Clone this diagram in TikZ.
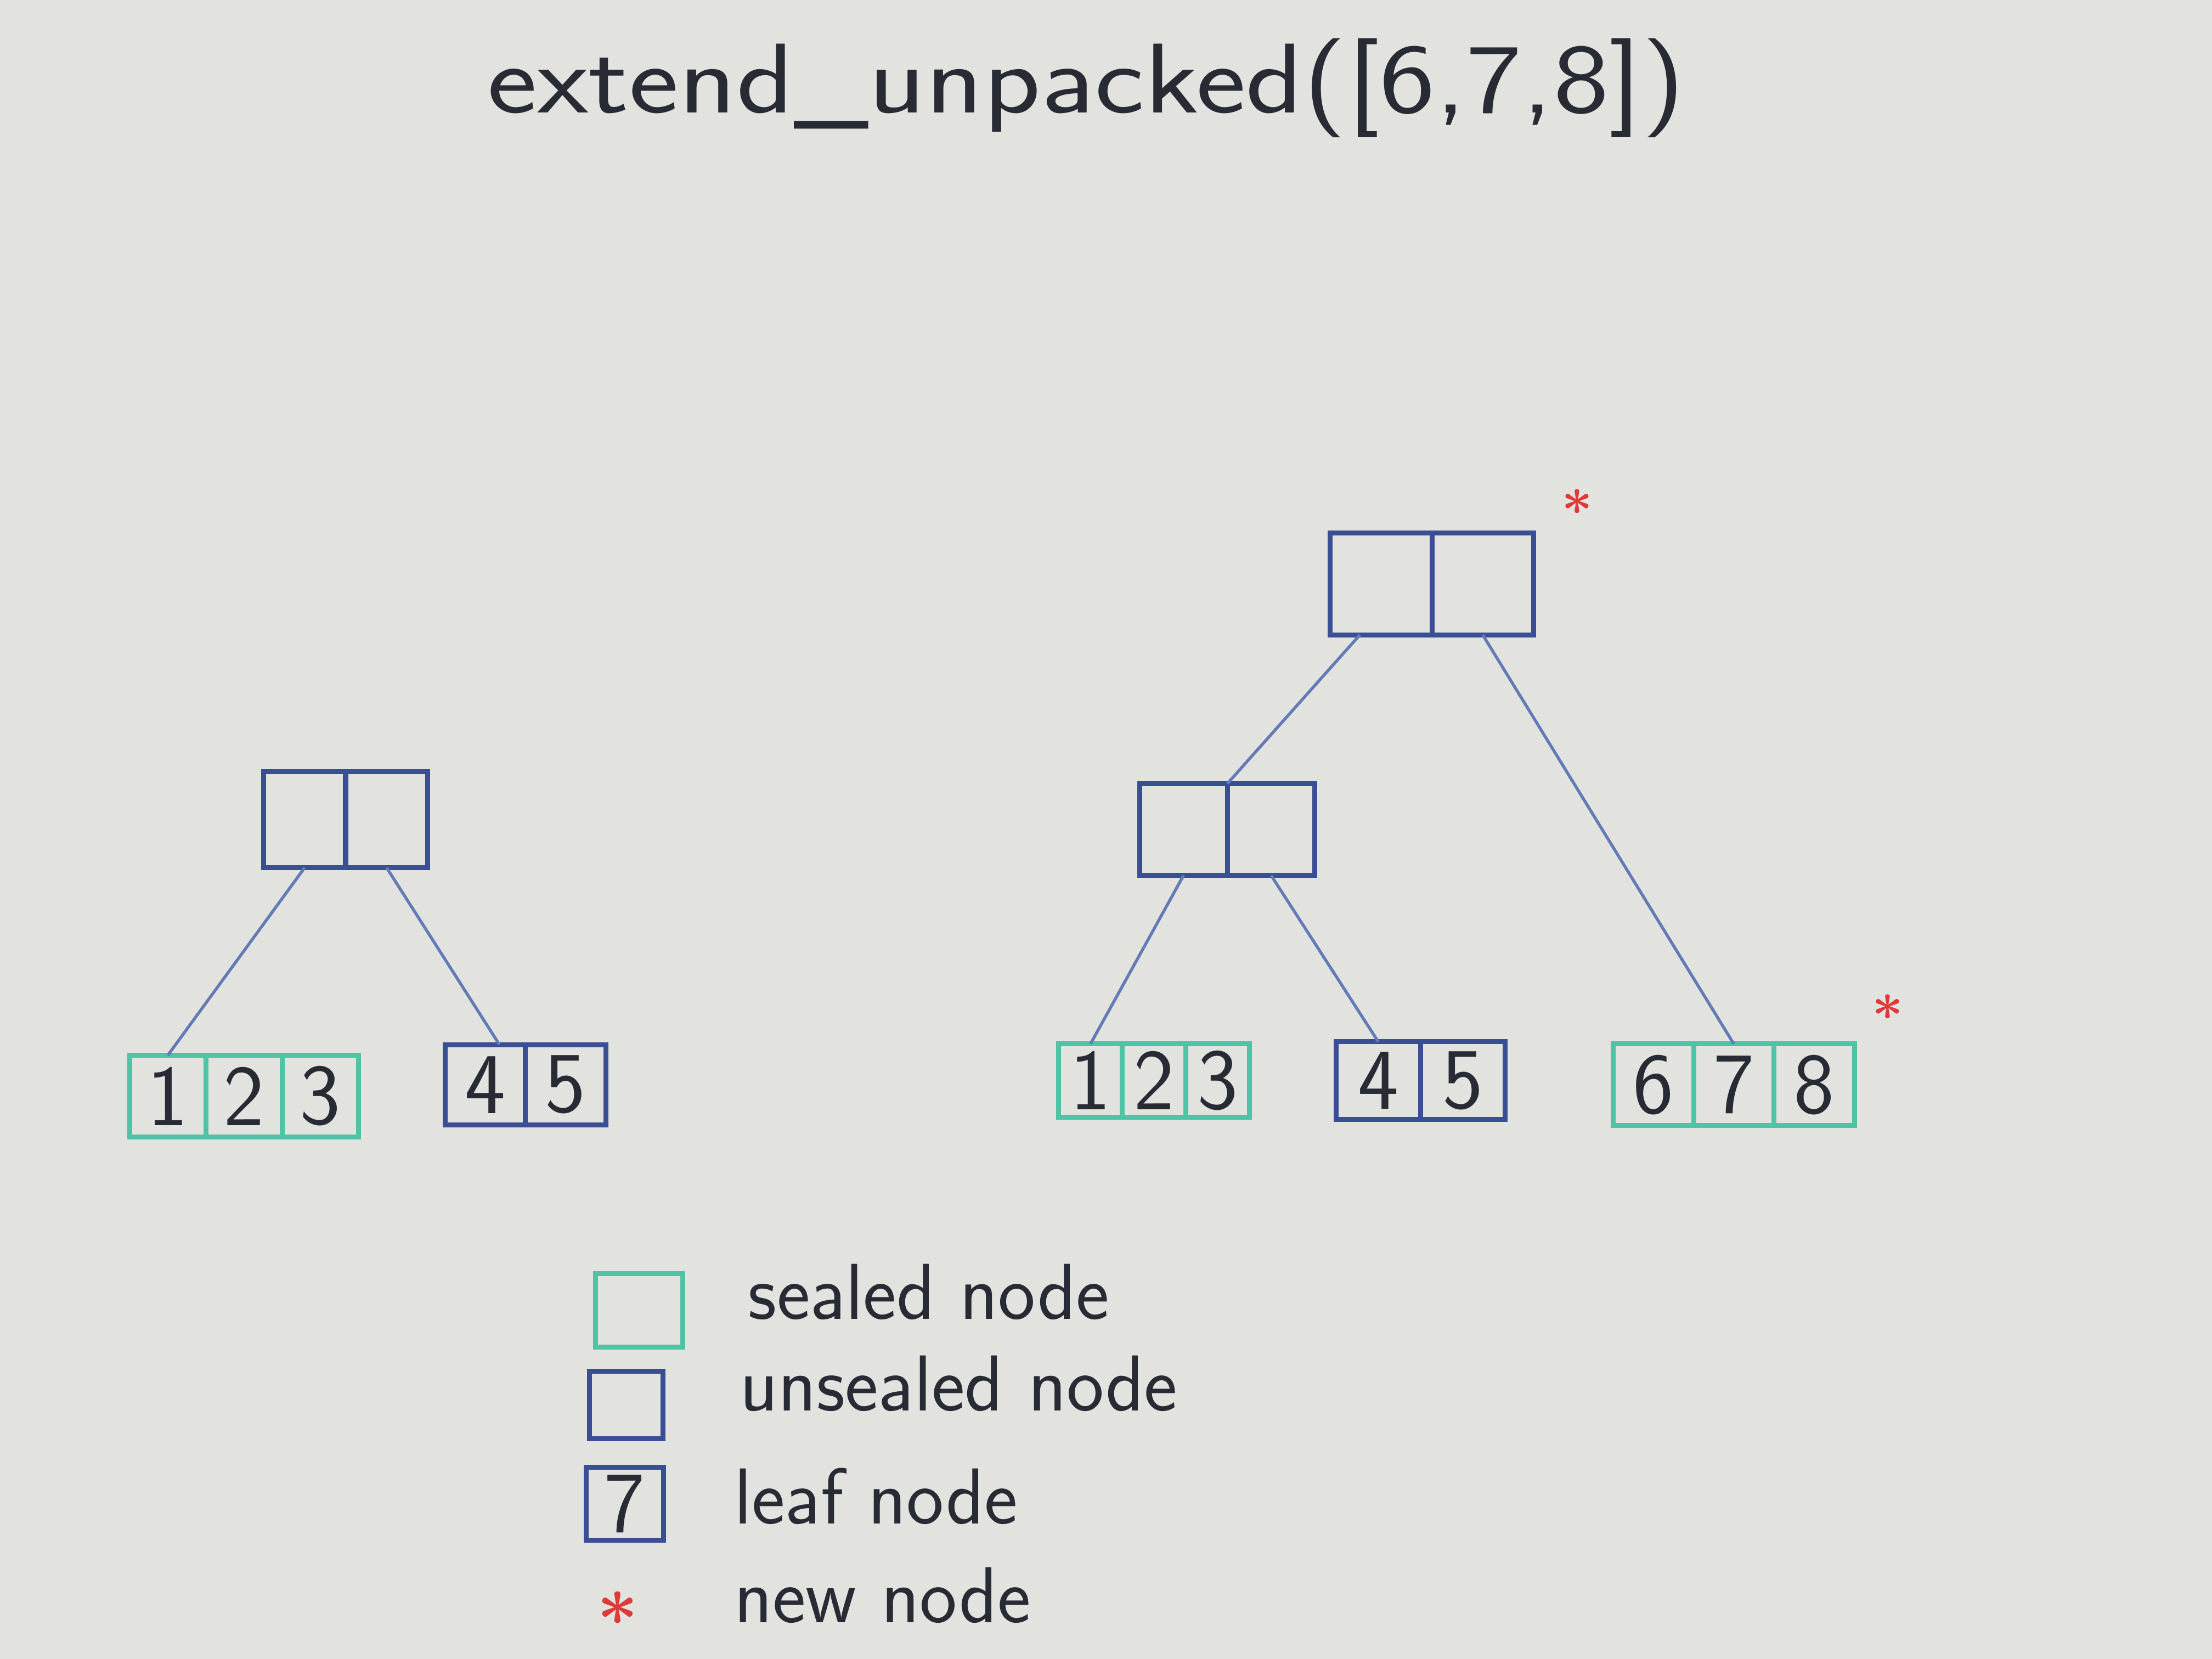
\documentclass[tikz,border=0pt]{standalone}
\usepackage{fontspec}
\usetikzlibrary{positioning}
\definecolor{board}{RGB}{226,226,223}
\definecolor{ink}{RGB}{58,78,150}
\definecolor{inklight}{RGB}{98,122,182}
\definecolor{sealgreen}{RGB}{78,196,165}
\definecolor{newred}{RGB}{222,58,58}
\definecolor{pen}{RGB}{40,42,52}
\tikzset{
	cell/.style={draw, line width=1pt, inner sep=0pt, outer sep=0pt, text=pen, font=\sffamily\fontsize{17.5}{20}\selectfont},
	sealed/.style={cell, draw=sealgreen},
	unsealed/.style={cell, draw=ink},
	edge/.style={draw=inklight, line width=0.6pt},
	newmark/.style={text=newred, inner sep=0pt, font=\boldmath\fontsize{11}{11}\selectfont},
	legend/.style={anchor=base west, text=pen, font=\sffamily\fontsize{16}{19}\selectfont},
}

\begin{document}
\begin{tikzpicture}
\fill[board] (0,0) rectangle (15.68,11.76);
\useasboundingbox (0,0) rectangle (15.68,11.76);

\node[anchor=base, text=pen, font=\sffamily\fontsize{20}{24}\selectfont] (title) at (7.70,10.96) {\scalebox{1.2}[1]{extend\_unpacked([6,7,8])}};

% left tree
\begin{scope}[every node/.append style={minimum width=.58cm, minimum height=.68cm}]
\node[unsealed] (lr1) at (2.16,5.95) {};
\node[unsealed, right=0pt of lr1] (lr2) {};
\end{scope}
\begin{scope}[every node/.append style={minimum width=.54cm, minimum height=.58cm}]
\node[sealed] (la1) at (1.19,3.99) {1};
\node[sealed, right=0pt of la1] (la2) {2};
\node[sealed, right=0pt of la2] (la3) {3};
\end{scope}
\begin{scope}[every node/.append style={minimum width=.57cm, minimum height=.57cm}]
\node[unsealed] (lb1) at (3.44,4.07) {4};
\node[unsealed, right=0pt of lb1] (lb2) {5};
\end{scope}
\draw[edge] (lr1.south) -- (la1.north);
\draw[edge] (lr2.south) -- ([xshift=1mm]lb1.north);

% right tree
\begin{scope}[every node/.append style={minimum width=.72cm, minimum height=.72cm}]
\node[unsealed] (rr1) at (9.79,7.62) {};
\node[unsealed, right=0pt of rr1] (rr2) {};
\end{scope}
\begin{scope}[every node/.append style={minimum width=.62cm, minimum height=.65cm}]
\node[unsealed] (rm1) at (8.39,5.88) {};
\node[unsealed, right=0pt of rm1] (rm2) {};
\end{scope}
\begin{scope}[every node/.append style={minimum width=.45cm, minimum height=.52cm}]
\node[sealed] (rc1) at (7.73,4.10) {1};
\node[sealed, right=0pt of rc1] (rc2) {2};
\node[sealed, right=0pt of rc2] (rc3) {3};
\end{scope}
\begin{scope}[every node/.append style={minimum width=.60cm, minimum height=.55cm}]
\node[unsealed] (rd1) at (9.77,4.10) {4};
\node[unsealed, right=0pt of rd1] (rd2) {5};
\end{scope}
\begin{scope}[every node/.append style={minimum width=.57cm, minimum height=.58cm}]
\node[sealed] (rf1) at (11.72,4.07) {6};
\node[sealed, right=0pt of rf1] (rf2) {7};
\node[sealed, right=0pt of rf2] (rf3) {8};
\end{scope}
\draw[edge] ([xshift=-1.5mm]rr1.south) -- (rm1.north east);
\draw[edge] (rr2.south) -- (rf2.north);
\draw[edge] (rm1.south) -- (rc1.north);
\draw[edge] (rm2.south) -- (rd1.north);

\node[newmark] (newroot) at (11.18,8.20) {$\ast$};
\node[newmark] (newleaf) at (13.38,4.62) {$\ast$};

% legend
\node[sealed, minimum width=.62cm, minimum height=.52cm] (keyseal) at (4.53,2.47) {};
\node[unsealed, minimum width=.52cm, minimum height=.48cm] (keyunseal) at (4.44,1.80) {};
\node[unsealed, minimum width=.55cm, minimum height=.52cm] (keyleaf) at (4.43,1.10) {7};
\node[newmark, font=\boldmath\fontsize{15}{15}\selectfont] (keynew) at (4.38,0.36) {$\ast$};
\node[legend] (keysealtxt) at (5.18,2.41) {sealed node};
\node[legend] (keyunsealtxt) at (5.12,1.76) {unsealed node};
\node[legend] (keyleaftxt) at (5.08,0.96) {leaf node};
\node[legend] (keynewtxt) at (5.08,0.26) {new node};
\end{tikzpicture}
\end{document}
